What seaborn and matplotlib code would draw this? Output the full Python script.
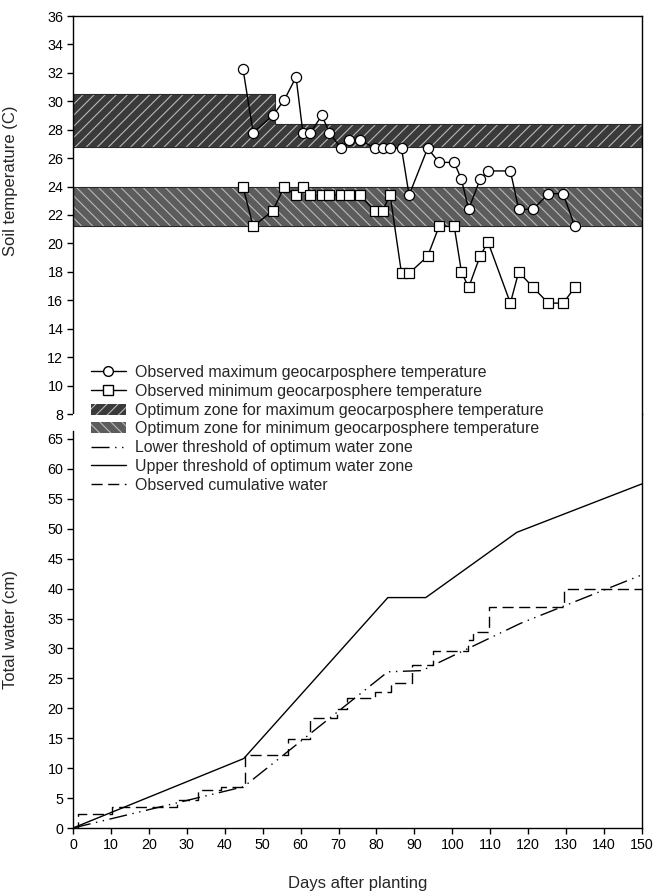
import matplotlib
matplotlib.use("Agg")
import matplotlib.pyplot as plt
import seaborn as sns
import pandas as pd
from matplotlib.patches import Patch
from matplotlib.lines import Line2D

# observation days (days after planting) for the geocarposphere temperatures
obs_days = [44.8, 47.5, 52.7, 55.7, 58.8, 60.6, 62.6, 65.6, 67.6, 70.6,
            72.7, 75.6, 79.5, 81.6, 83.6, 86.6, 88.6, 93.5, 96.5, 100.5,
            102.4, 104.3, 107.3, 109.4, 115.3, 117.5, 121.3, 125.3, 129.2, 132.3]
max_temp = [32.3, 27.8, 29.0, 30.1, 31.7, 27.8, 27.8, 29.0, 27.8, 26.7,
            27.3, 27.3, 26.7, 26.7, 26.7, 26.7, 23.4, 26.7, 25.7, 25.7,
            24.5, 22.4, 24.5, 25.1, 25.1, 22.4, 22.4, 23.5, 23.5, 21.2]
min_temp = [24.0, 21.2, 22.3, 24.0, 23.4, 24.0, 23.4, 23.4, 23.4, 23.4,
            23.4, 23.4, 22.3, 22.3, 23.4, 17.9, 17.9, 19.1, 21.2, 21.2,
            18.0, 16.9, 19.1, 20.1, 15.8, 18.0, 16.9, 15.8, 15.8, 16.9]

# optimum temperature zones (step boundaries)
zone_days = [0, 53.3, 150]
max_zone_low = [26.75, 26.75, 26.75]
max_zone_high = [30.5, 28.4, 28.4]
min_zone_low = [21.2, 21.2, 21.2]
min_zone_high = [23.95, 23.95, 23.95]

# water thresholds (cm)
upper_days = [0, 45, 83, 93, 117, 150]
upper_water = [0, 11.6, 38.5, 38.5, 49.4, 57.5]
lower_days = [0, 45, 83, 92, 118, 150]
lower_water = [0, 6.9, 26.1, 26.3, 34.2, 42.3]

# observed cumulative water (step changes)
cum_days = [0, 1.2, 10.2, 27.5, 33.0, 39.0, 45.4, 56.8, 62.6, 69.5, 72.3,
            79.5, 83.7, 89.4, 95.0, 104.0, 105.5, 109.6, 129.5, 150]
cum_water = [0, 2.4, 3.5, 4.6, 6.4, 6.9, 12.2, 14.9, 18.3, 19.8, 21.7,
             22.7, 24.3, 27.2, 29.6, 31.4, 32.7, 37.0, 39.9, 39.9]

labels = ["Observed maximum geocarposphere temperature",
          "Observed minimum geocarposphere temperature",
          "Optimum zone for maximum geocarposphere temperature",
          "Optimum zone for minimum geocarposphere temperature",
          "Lower threshold of optimum water zone",
          "Upper threshold of optimum water zone",
          "Observed cumulative water"]

sns.set_style("ticks")
plt.rcParams['font.family'] = ['Liberation Sans', 'DejaVu Sans']
plt.rcParams['patch.force_edgecolor'] = False
plt.rcParams['hatch.color'] = '#b8b8b8'
plt.rcParams['hatch.linewidth'] = 0.8

W, H = 656, 896
fig = plt.figure(figsize=(W / 100, H / 100), dpi=100)
ax_t = fig.add_axes([73 / W, 1 - 414 / H, (642 - 73) / W, (414 - 16) / H])
ax_b = fig.add_axes([73 / W, 1 - 828 / H, (642 - 73) / W, (828 - 414) / H])

max_zone_col = '#3a3a3a'
min_zone_col = '#5c5c5c'
lower_ls = (0, (13, 4, 1, 4, 1, 4))
cum_ls = (0, (8, 4))

# --- top panel: soil temperature ---
ax_t.fill_between(zone_days, max_zone_low, max_zone_high, step='post',
                  facecolor=max_zone_col, hatch='///', linewidth=0, zorder=1)
ax_t.fill_between(zone_days, max_zone_low, max_zone_high, step='post',
                  facecolor='none', edgecolor='#2a2a2a', linewidth=0.8, zorder=1)
ax_t.fill_between(zone_days, min_zone_low, min_zone_high, step='post',
                  facecolor=min_zone_col, hatch='\\\\\\', linewidth=0, zorder=1)
ax_t.fill_between(zone_days, min_zone_low, min_zone_high, step='post',
                  facecolor='none', edgecolor='#2a2a2a', linewidth=0.8, zorder=1)

temp_df = pd.DataFrame({"day": obs_days, "tmax": max_temp, "tmin": min_temp})
sns.lineplot(data=temp_df, x="day", y="tmax", color='black', linewidth=1,
             marker='o', markersize=7.3, markerfacecolor='white',
             markeredgecolor='black', markeredgewidth=0.9,
             estimator=None, sort=False, ax=ax_t, zorder=3)
sns.lineplot(data=temp_df, x="day", y="tmin", color='black', linewidth=1,
             marker='s', markersize=6.7, markerfacecolor='white',
             markeredgecolor='black', markeredgewidth=0.9,
             estimator=None, sort=False, ax=ax_t, zorder=3)

ax_t.set_xlim(0, 150)
ax_t.set_ylim(8, 36)
ax_t.set_yticks(range(8, 37, 2))
ax_t.spines['bottom'].set_visible(False)
ax_t.tick_params(bottom=False, labelbottom=False)
ax_t.set_xlabel("")
ax_t.set_ylabel("Soil temperature (C)", fontsize=12)
ax_t.yaxis.set_label_coords(-0.097, 0.585)

# --- bottom panel: total water ---
sns.lineplot(x=upper_days, y=upper_water, color='black', linewidth=1,
             estimator=None, sort=False, ax=ax_b)
sns.lineplot(x=lower_days, y=lower_water, color='black', linewidth=1,
             linestyle=lower_ls, estimator=None, sort=False, ax=ax_b)
sns.lineplot(x=cum_days, y=cum_water, color='black', linewidth=1,
             linestyle=cum_ls, drawstyle='steps-post',
             estimator=None, sort=False, ax=ax_b)

ax_b.set_xlim(0, 150)
ax_b.set_ylim(0, (828 - 414) / 5.985)
ax_b.set_xticks(range(0, 151, 10))
ax_b.set_yticks(range(0, 66, 5))
ax_b.spines['top'].set_visible(False)
ax_b.spines['left'].set_bounds(0, 66.3)
ax_b.set_ylabel("Total water (cm)", fontsize=12)
ax_b.yaxis.set_label_coords(-0.097, 0.48)
ax_b.set_xlabel("Days after planting", fontsize=12)
ax_b.xaxis.set_label_coords(0.5, -0.115)

for ax in (ax_t, ax_b):
    for s in ax.spines.values():
        s.set_linewidth(1)
        s.set_color('black')
    ax.tick_params(direction='out', length=4, width=1, labelsize=10.3,
                   colors='black', pad=3)

# legend spanning both panels
handles = [
    Line2D([], [], color='black', lw=1, marker='o', markersize=7,
           markerfacecolor='white', markeredgecolor='black'),
    Line2D([], [], color='black', lw=1, marker='s', markersize=6.5,
           markerfacecolor='white', markeredgecolor='black'),
    Patch(facecolor=max_zone_col, hatch='///'),
    Patch(facecolor=min_zone_col, hatch='\\\\\\'),
    Line2D([], [], color='black', lw=1, linestyle=lower_ls),
    Line2D([], [], color='black', lw=1),
    Line2D([], [], color='black', lw=1, linestyle=cum_ls),
]
fig.legend(handles, labels, loc='upper left',
           bbox_to_anchor=(91 / W, 1 - 365 / H), frameon=False,
           fontsize=11.4, handlelength=2.2, handletextpad=0.55,
           labelspacing=0.24, borderpad=0, borderaxespad=0, numpoints=1)

fig.savefig("out.png", dpi=100)
